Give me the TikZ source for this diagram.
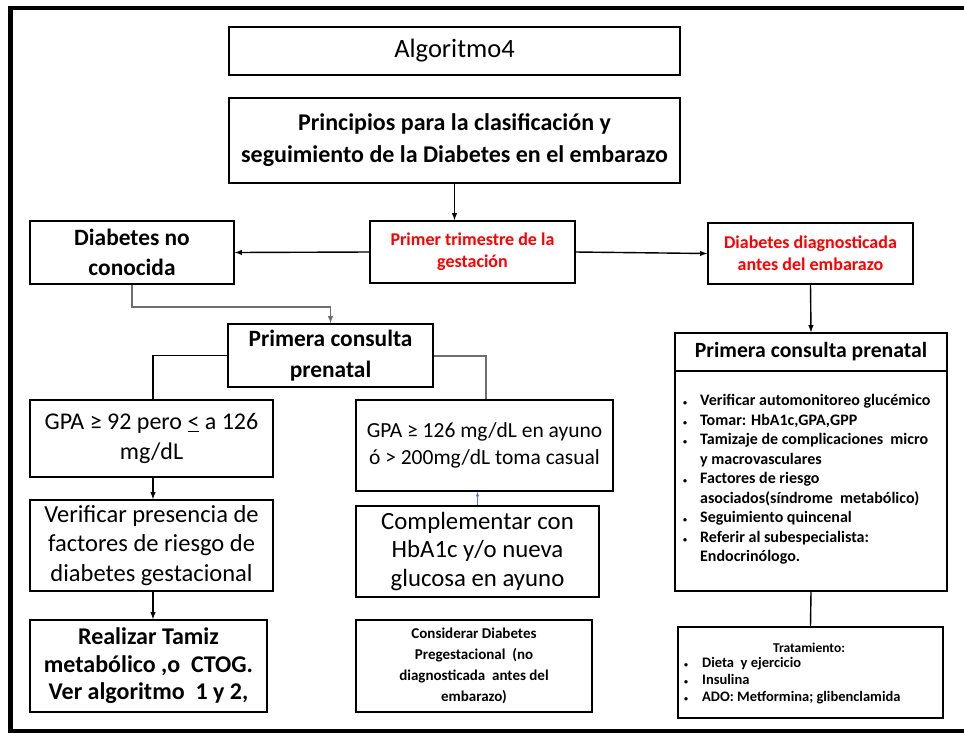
\documentclass[tikz,border=0pt]{standalone}
\usepackage{fontspec}
\setmainfont{Carlito}
\usepackage{xcolor}
\definecolor{gristrazo}{HTML}{6E6E6E}
\definecolor{azultip}{HTML}{4F81BD}
\usetikzlibrary{positioning}

\newcommand{\vin}{{\fontsize{8}{8}\selectfont\textbullet}}

\begin{document}
\begin{tikzpicture}[x=1pt, y=-1pt,
    caja/.style={draw, line width=1.6pt, align=center, inner sep=0pt},
    flecha/.style={->, >=latex, line width=1.4pt},
    linea/.style={line width=1.4pt}]

    \useasboundingbox (0,0) rectangle (964,732);

    % marco exterior
    \draw [line width=4.5pt] (964,8) -- (10.5,8) -- (10.5,732);
    \draw [line width=4pt] (8,730.5) -- (964,730.5);

    % encabezados
    \node [caja, minimum width=451pt, minimum height=48pt,
           font=\fontsize{26.5}{30}\selectfont] (alg) at (454.5,51) {Algoritmo4};
    \node [caja, minimum width=451pt, minimum height=85pt,
           font=\fontsize{24}{32}\selectfont\bfseries] (princ) at (454.5,140.5)
        {Principios para la clasificación y\\ seguimiento de la Diabetes en el embarazo};

    % fila de clasificacion
    \node [caja, minimum width=205pt, minimum height=62pt, text=red,
           font=\fontsize{18}{22}\selectfont\bfseries] (trim) at (472.5,252)
        {Primer trimestre de la\\ gestación};
    \node [caja, minimum width=204pt, minimum height=63pt,
           font=\fontsize{23.4}{30}\selectfont\bfseries] (noconoc) at (132,252.5)
        {Diabetes no\\ conocida};
    \node [caja, minimum width=205pt, minimum height=61pt, text=red,
           font=\fontsize{18}{22}\selectfont\bfseries] (diag) at (810.5,253.5)
        {Diabetes diagnosticada\\ antes del embarazo};

    % rama izquierda
    \node [caja, minimum width=205pt, minimum height=63pt,
           font=\fontsize{23.4}{31}\selectfont\bfseries] (consM) at (330.5,355.5)
        {Primera consulta\\ prenatal};
    \node [caja, minimum width=243pt, minimum height=77pt,
           font=\fontsize{24}{30}\selectfont] (gpa92) at (151.5,438.5)
        {GPA ≥ 92 pero \underline{<} a 126\\ mg/dL};
    \node [caja, minimum width=243pt, minimum height=91pt,
           font=\fontsize{24.5}{29.5}\selectfont] (verif) at (151.5,545.5)
        {Verificar presencia de\\ factores de riesgo de\\ diabetes gestacional};
    \node [caja, minimum width=237pt, minimum height=92pt,
           font=\fontsize{24}{27.5}\selectfont\bfseries] (realiz) at (148.5,666)
        {Realizar Tamiz\\ metabólico ,o~ CTOG.\\ Ver algoritmo~ 1 y 2,};

    \node [caja, minimum width=257pt, minimum height=91pt,
           font=\fontsize{21.5}{27}\selectfont] (gpa126) at (484.5,445.5)
        {GPA ≥ 126 mg/dL en ayuno\\ ó > 200mg/dL toma casual};
    \node [caja, minimum width=243pt, minimum height=91pt,
           font=\fontsize{24.8}{28.5}\selectfont] (comp) at (477.5,551.5)
        {Complementar con\\ HbA1c y/o nueva\\ glucosa en ayuno};
    \node [caja, minimum width=236pt, minimum height=92pt,
           font=\fontsize{15}{21}\selectfont\bfseries] (consid) at (474,666)
        {Considerar Diabetes\\ Pregestacional~ (no\\ diagnosticada~ antes del\\ embarazo)};

    % rama derecha
    \node [caja, minimum width=272pt, minimum height=38pt,
           font=\fontsize{21.7}{24}\selectfont\bfseries] (consRh) at (811,352)
        {Primera consulta prenatal};
    \node [caja, minimum width=272pt, minimum height=220pt] (consRb) at (811,481) {};
    \node [anchor=north west, inner sep=0pt, align=left,
           font=\fontsize{16}{19.5}\selectfont\bfseries] (lista) at (683,392)
        {\begin{tabular}{@{}l@{\hspace{13pt}}l@{}}
         \vin & Verificar automonitoreo glucémico\\
         \vin & Tomar: HbA1c,GPA,GPP\\
         \vin & Tamizaje de complicaciones~ micro\\
              & y macrovasculares\\
         \vin & Factores de riesgo\\
              & asociados(síndrome~ metabólico)\\
         \vin & Seguimiento quincenal\\
         \vin & Referir al subespecialista:\\
              & Endocrinólogo.
         \end{tabular}};
    \node [caja, minimum width=265pt, minimum height=91pt] (trat) at (810.5,672.5) {};
    \node [inner sep=0pt, font=\fontsize{13.5}{16}\selectfont\bfseries] (tratitulo) at (809,648)
        {Tratamiento:};
    \node [inner sep=0pt, align=left, anchor=north west,
           font=\fontsize{14.5}{17}\selectfont\bfseries] (tratlista) at (684,655)
        {\begin{tabular}{@{}l@{\hspace{14pt}}l@{}}
         \vin & Dieta~ y ejercicio\\
         \vin & Insulina\\
         \vin & ADO: Metformina; glibenclamida
         \end{tabular}};

    % conectores
    \draw [flecha] (princ.south) -- (princ.south |- trim.north);
    \draw [flecha] (trim.west) -- (noconoc.east);
    \draw [flecha] (trim.east) -- (diag.west);
    \draw [flecha] (diag.south) -- (consRh.north);
    \draw [linea] (consRb.south) -- (trat.north);

    \draw [flecha, color=gristrazo] (noconoc.south) -- ++(0,22) -| (consM.north);
    \draw [linea] (consM.west) -| ([xshift=1.5pt]gpa92.north);
    \draw [linea, color=gristrazo, line width=2pt] (consM.east) -| ([xshift=1.5pt]gpa126.north);

    \draw [flecha] ([xshift=1.5pt]gpa92.south) -- ([xshift=1.5pt]verif.north);
    \draw [flecha] ([xshift=1.5pt]verif.south) -- ([xshift=1.5pt]verif.south |- realiz.north);
    \draw [->, >=latex, line width=0.6pt, color=azultip] (comp.north) -- (comp.north |- gpa126.south);

\end{tikzpicture}
\end{document}
